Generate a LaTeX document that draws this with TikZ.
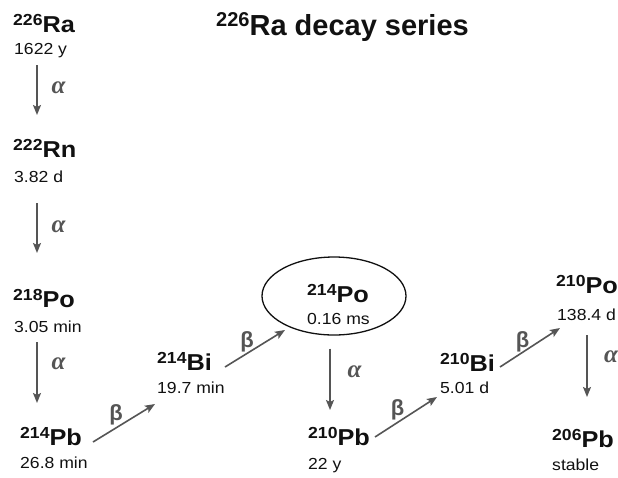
\documentclass[tikz,border=0pt]{standalone}
\usepackage{graphicx}
\usepackage{fontspec}
\setmainfont{Liberation Sans}
\newfontfamily\grkserif{Liberation Serif}
\usetikzlibrary{arrows.meta,shapes.geometric,calc}

\definecolor{ink}{HTML}{111111}
\definecolor{decaygray}{HTML}{555555}

% nuclide symbol: bold mass number raised before the element, set a little wide
\newcommand\nuc[2]{\scalebox{1.1}[1]{\bfseries\raisebox{7pt}{\fontsize{16}{16}\selectfont #1}{\fontsize{23}{23}\selectfont #2}}}
% half-life text, set a little wide as well
\newcommand\hl[1]{\scalebox{1.1}[1]{#1}}

\tikzset{
  iso/.style={anchor=base west, inner sep=0pt, text=ink},
  halflife/.style={anchor=base west, inner sep=0pt, text=ink,
    font=\fontsize{16}{16}\selectfont},
  decay/.style={draw=decaygray, line width=1.6pt,
    -{Stealth[length=10pt,width=8pt,inset=2pt]}},
  alphalbl/.style={inner sep=0pt, text=decaygray,
    font=\grkserif\bfseries\itshape\fontsize{25}{25}\selectfont},
  betalbl/.style={inner sep=0pt, text=decaygray,
    font=\bfseries\fontsize{22}{22}\selectfont}
}

\begin{document}
\begin{tikzpicture}[x=1pt,y=-1pt]
\useasboundingbox (0,0) rectangle (618,477);
\fill[white] (0,0) rectangle (618,477);

% title
\node[anchor=base west, inner sep=0pt, text=ink, font=\bfseries] (title) at (216,35)
  {\raisebox{9pt}{\fontsize{20}{20}\selectfont 226}{\fontsize{29}{29}\selectfont Ra decay series}};

% nuclides and half-lives
\node[iso] (ra226) at (13,32) {\nuc{226}{Ra}};
\node[halflife] (ra226t) at (14,54) {\hl{1622 y}};

\node[iso] (rn222) at (13,157) {\nuc{222}{Rn}};
\node[halflife] (rn222t) at (14,182) {\hl{3.82 d}};

\node[iso] (po218) at (13,307) {\nuc{218}{Po}};
\node[halflife] (po218t) at (14,332) {\hl{3.05 min}};

\node[iso] (pb214) at (20,445) {\nuc{214}{Pb}};
\node[halflife] (pb214t) at (20,468) {\hl{26.8 min}};

\node[iso] (bi214) at (157,370) {\nuc{214}{Bi}};
\node[halflife] (bi214t) at (157,393) {\hl{19.7 min}};

\node[draw=ink, line width=1.3pt, ellipse, minimum width=144, minimum height=78]
  (po214e) at (334,296) {};
\node[iso] (po214) at (307,302) {\nuc{214}{Po}};
\node[halflife] (po214t) at (307,324) {\hl{0.16 ms}};

\node[iso] (pb210) at (308,445) {\nuc{210}{Pb}};
\node[halflife] (pb210t) at (308,469) {\hl{22 y}};

\node[iso] (bi210) at (440,371) {\nuc{210}{Bi}};
\node[halflife] (bi210t) at (440,393) {\hl{5.01 d}};

\node[iso] (po210) at (556,293) {\nuc{210}{Po}};
\node[halflife] (po210t) at (557,320) {\hl{138.4 d}};

\node[iso] (pb206) at (552,447) {\nuc{206}{Pb}};
\node[halflife] (pb206t) at (552,470) {\hl{stable}};

% alpha decays
\draw[decay] ($(ra226t.base west)+(23,11)$) -- ($(rn222.base west)+(24,-42)$);
\draw[decay] ($(rn222t.base west)+(23,21)$) -- ($(po218.base west)+(24,-54)$);
\draw[decay] ($(po218t.base west)+(23,10)$) -- ($(pb214.base west)+(17,-42)$);
\draw[decay] ($(po214e.south)+(-4,13)$) -- ($(pb210.base west)+(22,-35)$);
\draw[decay] ($(po210t.base west)+(30,15)$) -- ($(pb206.base west)+(35,-50)$);

\node[alphalbl] (al1) at (58.5,88) {α};
\node[alphalbl] (al2) at (58.5,227) {α};
\node[alphalbl] (al3) at (58.5,364) {α};
\node[alphalbl] (al4) at (354.5,372) {α};
\node[alphalbl] (al5) at (611,357) {α};

% beta decays
\draw[decay] ($(pb214.base west)+(73,-3)$) -- ($(bi214.base west)+(-2,34)$);
\draw[decay] ($(bi214.base west)+(68,-3)$) -- ($(po214e.center)+(-49,34)$);
\draw[decay] ($(pb210.base west)+(67,-8)$) -- ($(bi210.base west)+(-3,26)$);
\draw[decay] ($(bi210.base west)+(60,-4)$) -- ($(po210.base west)+(4,35)$);

\node[betalbl] (be1) at (116,415) {β};
\node[betalbl] (be2) at (247,342) {β};
\node[betalbl] (be3) at (397.5,410) {β};
\node[betalbl] (be4) at (522.5,342) {β};
\end{tikzpicture}
\end{document}
